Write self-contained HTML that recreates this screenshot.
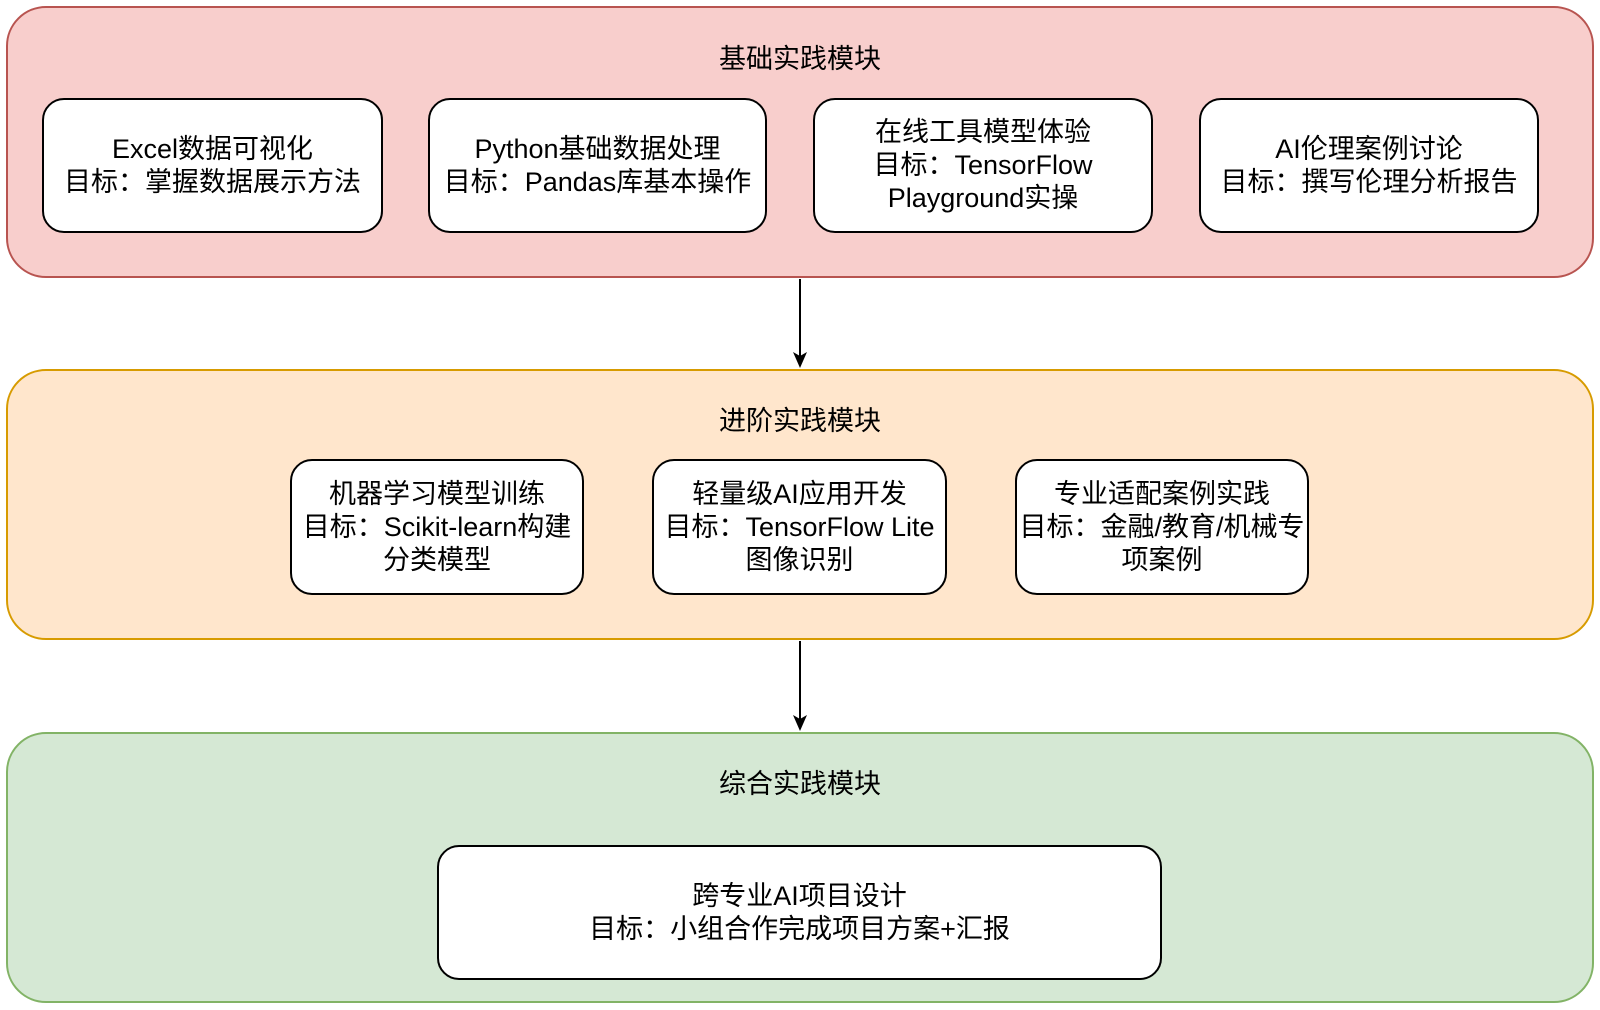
<!DOCTYPE html>
<html><head><meta charset="utf-8"><style>
body{margin:0;width:1600px;height:1010px;background:#fff;position:relative;overflow:hidden;font-family:"Liberation Sans","Noto Sans CJK SC",sans-serif;color:#000}
.c{position:absolute;box-sizing:border-box;border:2px solid;border-radius:40px}
.t{position:absolute;left:0;width:1600px;text-align:center;font-size:27px;line-height:30px}
.b{position:absolute;box-sizing:border-box;background:#fff;border:2px solid #000;border-radius:22px;display:flex;align-items:center;justify-content:center;text-align:center;font-size:27px;line-height:33px}
</style></head><body>
<div class="c" style="left:6px;top:6px;width:1588px;height:272px;background:#f8cecc;border-color:#b85450"></div>
<div class="t" style="top:44px">基础实践模块</div>
<div class="b" style="left:42px;top:98px;width:341px;height:135px">Excel数据可视化<br>目标：掌握数据展示方法</div>
<div class="b" style="left:428px;top:98px;width:339px;height:135px">Python基础数据处理<br>目标：Pandas库基本操作</div>
<div class="b" style="left:813px;top:98px;width:340px;height:135px">在线工具模型体验<br>目标：TensorFlow<br>Playground实操</div>
<div class="b" style="left:1199px;top:98px;width:340px;height:135px">AI伦理案例讨论<br>目标：撰写伦理分析报告</div>

<div class="c" style="left:6px;top:369px;width:1588px;height:271px;background:#ffe6cc;border-color:#d79b00"></div>
<div class="t" style="top:406px">进阶实践模块</div>
<div class="b" style="left:290px;top:459px;width:294px;height:136px">机器学习模型训练<br>目标：Scikit-learn构建<br>分类模型</div>
<div class="b" style="left:652px;top:459px;width:295px;height:136px">轻量级AI应用开发<br>目标：TensorFlow Lite<br>图像识别</div>
<div class="b" style="left:1015px;top:459px;width:294px;height:136px">专业适配案例实践<br>目标：金融/教育/机械专<br>项案例</div>

<div class="c" style="left:6px;top:732px;width:1588px;height:271px;background:#d5e8d4;border-color:#82b366"></div>
<div class="t" style="top:769px">综合实践模块</div>
<div class="b" style="left:437px;top:845px;width:725px;height:135px">跨专业AI项目设计<br>目标：小组合作完成项目方案+汇报</div>

<svg style="position:absolute;left:0;top:0" width="1600" height="1010">
<line x1="800" y1="279" x2="800" y2="358" stroke="#000" stroke-width="2"/>
<path d="M793,352 L800,368 L807,352 L800,356 Z" fill="#000"/>
<line x1="800" y1="641" x2="800" y2="721" stroke="#000" stroke-width="2"/>
<path d="M793,715 L800,731 L807,715 L800,719 Z" fill="#000"/>
</svg>
</body></html>
